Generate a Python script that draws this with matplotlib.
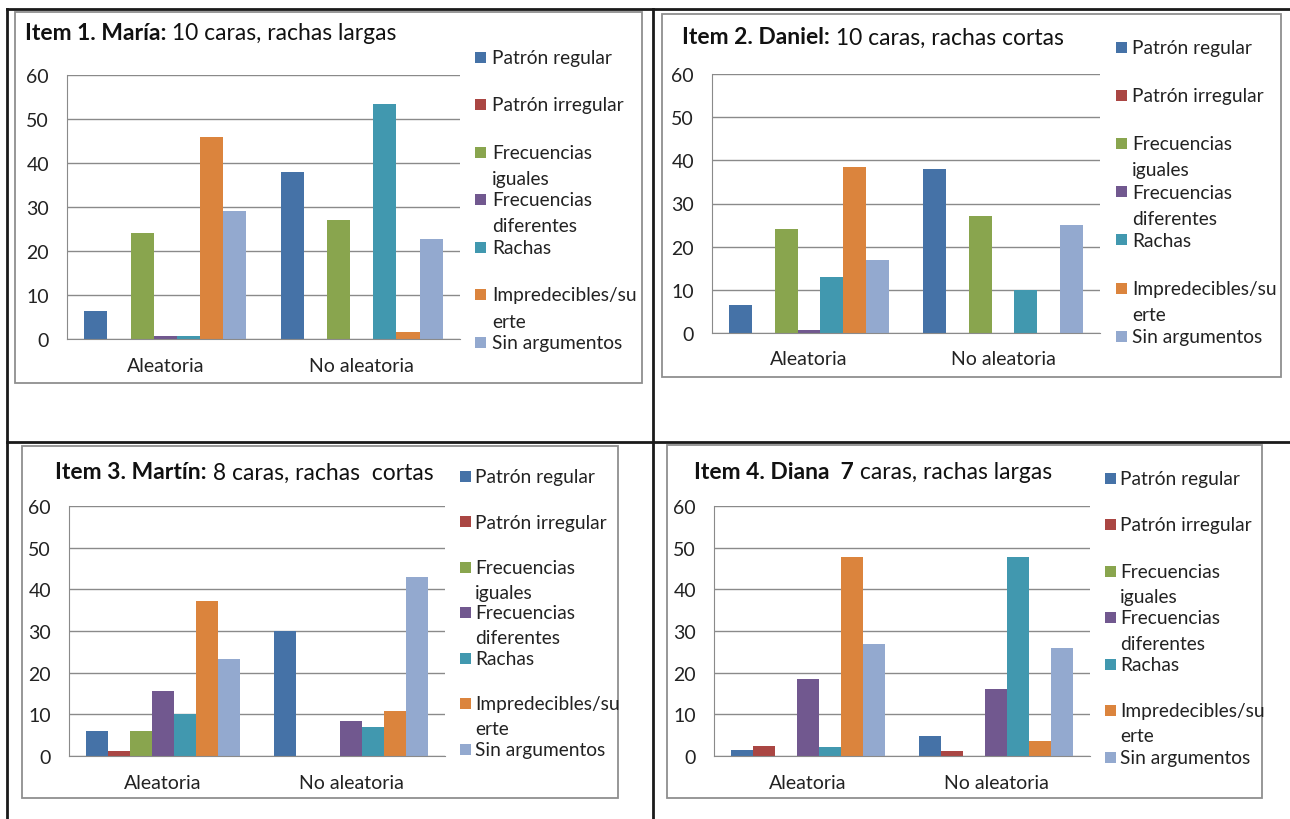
import matplotlib.pyplot as plt
import numpy as np
from matplotlib.lines import Line2D
from matplotlib.patches import Rectangle

plt.rcParams['font.family'] = ['Lato', 'DejaVu Sans']

W, H = 1290, 820

categories = ['Aleatoria', 'No aleatoria']
series = ['Patrón regular', 'Patrón irregular', 'Frecuencias\niguales',
          'Frecuencias\ndiferentes', 'Rachas', 'Impredecibles/su\nerte',
          'Sin argumentos']
colors = ['#4572A7', '#AA4643', '#89A54E', '#71588F', '#4198AF', '#DB843D', '#93A9CF']

# porcentajes por ítem: [Aleatoria, No aleatoria], un valor por serie
maria_aleatoria = [6.3, 0, 24, 0.7, 0.7, 46, 29]
maria_no_aleatoria = [38, 0, 27, 0, 53.3, 1.5, 22.8]
daniel_aleatoria = [6.4, 0, 24, 0.7, 13, 38.4, 16.9]
daniel_no_aleatoria = [38, 0, 27, 0, 10, 0, 25]
martin_aleatoria = [6, 1.2, 6, 15.5, 10.2, 37.2, 23.3]
martin_no_aleatoria = [30, 0, 0, 8.4, 7, 10.8, 43]
diana_aleatoria = [1.5, 2.5, 0, 18.6, 2.2, 47.7, 26.9]
diana_no_aleatoria = [4.9, 1.3, 0, 16.2, 47.7, 3.6, 25.9]

titles = [('Item 1. María:', ' 10 caras, rachas largas'),
          ('Item 2. Daniel:', ' 10 caras, rachas cortas'),
          ('Item 3. Martín:', ' 8 caras, rachas  cortas'),
          ('Item 4. Diana  7', ' caras, rachas largas')]

fig = plt.figure(figsize=(W / 100, H / 100), dpi=100)


def fx(px):
    return px / W


def fy(py):
    return 1 - py / H


def fig_line(x0, y0, x1, y1, **kw):
    fig.add_artist(Line2D([fx(x0), fx(x1)], [fy(y0), fy(y1)],
                          transform=fig.transFigure, **kw))


def fig_box(x0, y0, x1, y1):
    fig.add_artist(Rectangle((fx(x0), fy(y1)), fx(x1) - fx(x0), fy(y0) - fy(y1),
                             transform=fig.transFigure, fill=False,
                             edgecolor='#8f8f8f', linewidth=1.3))


# marco de la tabla
tbl = dict(color='#1a1a1a', linewidth=2.0)
fig_line(7, 10, 1290, 10, **tbl)
fig_line(7, 10, 7, 820, **tbl)
fig_line(653, 10, 653, 820, **tbl)
fig_line(7, 443, 1290, 443, **tbl)

# (caja, área de trazado, título, leyenda) en píxeles
panels = [
    dict(box=(15, 13, 642, 384), plot=(67, 76, 460, 340), title=(25, 33),
         cat_pad=13, leg=(475, 492, 58, 47.5, 26),
         data=(maria_aleatoria, maria_no_aleatoria)),
    dict(box=(662, 15, 1281, 378), plot=(712, 75, 1100, 334), title=(682, 38),
         cat_pad=12, leg=(1116, 1132, 48, 48.2, 26),
         data=(daniel_aleatoria, daniel_no_aleatoria)),
    dict(box=(22, 447, 618, 799), plot=(69, 507, 445, 757), title=(55, 473),
         cat_pad=13, leg=(460, 475, 477, 45.5, 25),
         data=(martin_aleatoria, martin_no_aleatoria)),
    dict(box=(667, 446, 1262, 799), plot=(714, 507, 1090, 757), title=(694, 473),
         cat_pad=13, leg=(1105, 1120, 479, 46.5, 25),
         data=(diana_aleatoria, diana_no_aleatoria)),
]

x = np.arange(len(categories))
width = 1 / 8.5
grid_color = '#8a8a8a'
txt_color = '#222222'

for p, (bold, rest) in zip(panels, titles):
    fig_box(*p['box'])

    l, t, r, b = p['plot']
    ax = fig.add_axes([fx(l), fy(b), fx(r) - fx(l), fy(t) - fy(b)])
    values = np.array(p['data']).T
    for i, name in enumerate(series):
        ax.bar(x + (i - 3) * width, values[i], width, color=colors[i], linewidth=0)

    ax.set_xlim(-0.5, 1.5)
    ax.set_ylim(0, 60)
    ax.set_yticks(range(0, 61, 10))
    ax.set_xticks(x)
    ax.set_xticklabels(categories)
    ax.yaxis.grid(True, color=grid_color, linewidth=1.0)
    ax.set_axisbelow(True)
    for s in ['top', 'right']:
        ax.spines[s].set_visible(False)
    ax.spines['left'].set_color(grid_color)
    ax.spines['bottom'].set_color(grid_color)
    ax.tick_params(axis='y', length=0, pad=13, labelsize=14, labelcolor=txt_color)
    ax.tick_params(axis='x', length=0, pad=p['cat_pad'], labelsize=14, labelcolor=txt_color)

    # título: parte en negrita seguida del resto
    tx, ty = p['title']
    tb = fig.text(fx(tx), fy(ty), bold, fontsize=16.5, fontweight='bold',
                  ha='left', va='center', color='#111111')
    ax.annotate(rest, xy=(1, 0), xycoords=tb, ha='left', va='bottom',
                fontsize=16.5, color='#111111', annotation_clip=False)

    # leyenda, una línea de texto cada vez
    px0, tx0, y0, dy, line_h = p['leg']
    for i, name in enumerate(series):
        yc = y0 + i * dy
        fig.add_artist(Rectangle((fx(px0), fy(yc + 5.5)), 11 / W, 11 / H,
                                 transform=fig.transFigure, facecolor=colors[i],
                                 edgecolor='none'))
        for k, line in enumerate(name.split('\n')):
            fig.text(fx(tx0), fy(yc + 6 + k * line_h), line, fontsize=13.8,
                     color=txt_color, ha='left', va='baseline')

fig.savefig('out.png', dpi=100)
